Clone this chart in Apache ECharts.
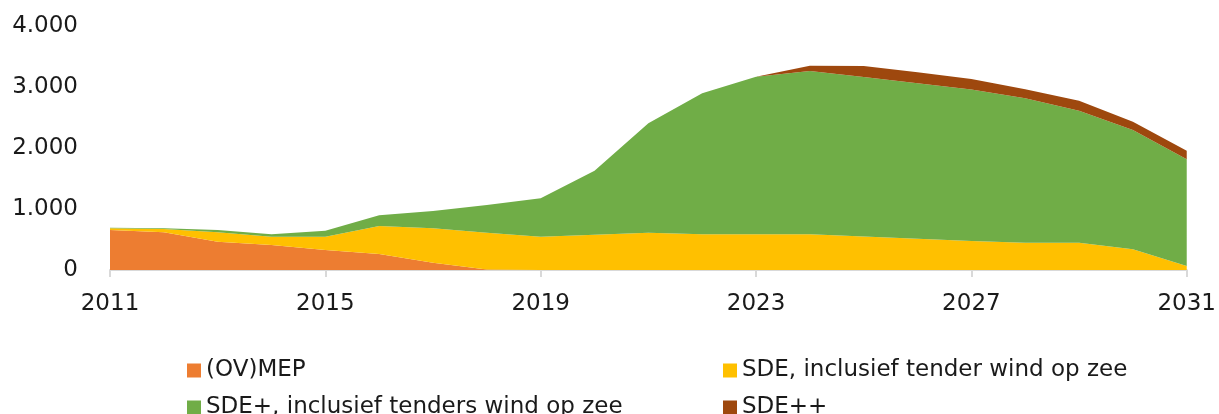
<!DOCTYPE html>
<html>
<head>
<meta charset="utf-8">
<script src="https://cdn.jsdelivr.net/npm/echarts@6/dist/echarts.min.js"></script>
<style>
  html, body { margin: 0; padding: 0; background: #fff; }
  #chart { width: 1219px; height: 414px; }
</style>
</head>
<body>
<div id="chart"></div>
<script>
var years = ['2011','2012','2013','2014','2015','2016','2017','2018','2019','2020',
  '2021','2022','2023','2024','2025','2026','2027','2028','2029','2030','2031'];

var mep     = [656, 617, 464, 410, 328, 262, 120, 10, 0, 0, 0, 0, 0, 0, 0, 0, 0, 0, 0, 0, 0];
var sde     = [27, 55, 153, 136, 218, 459, 563, 602, 546, 576, 612, 588, 588, 585, 549, 514, 475, 448, 448, 339, 66];
var sdePlus = [10, 11, 39, 39, 99, 175, 284, 454, 629, 1052, 1792, 2308, 2581, 2677, 2615, 2548, 2486, 2366, 2164, 1956, 1748];
var sdePP   = [0, 0, 0, 0, 0, 0, 0, 0, 0, 0, 0, 0, 0, 87, 180, 178, 170, 150, 164, 136, 142];

var names = ['(OV)MEP', 'SDE, inclusief tender wind op zee', 'SDE+, inclusief tenders wind op zee', 'SDE++'];
var colors = ['#ED7D31', '#FFC000', '#70AD47', '#9E480E'];

var chart = echarts.init(document.getElementById('chart'));

function area(name, data) {
  return {
    name: name,
    type: 'line',
    stack: 'total',
    data: data,
    symbol: 'none',
    lineStyle: { width: 0 },
    areaStyle: { opacity: 1 },
    emphasis: { disabled: true }
  };
}

var legendText = { fontFamily: 'DejaVu Sans', fontSize: 23, color: '#1a1a1a', lineHeight: 22 };

function legendCol(items, left) {
  return {
    data: items,
    orient: 'vertical',
    left: left, top: 359,
    width: 480, height: 80,
    padding: 0,
    itemWidth: 14, itemHeight: 14, itemGap: 14,
    icon: 'rect',
    textStyle: legendText
  };
}

var option = {
  animation: false,
  color: colors,
  grid: { left: 110, right: 29, top: 26, bottom: 144 },
  legend: [
    legendCol([names[0], names[2]], 187),
    legendCol([names[1], names[3]], 723)
  ],
  xAxis: {
    type: 'category',
    data: years,
    boundaryGap: false,
    axisLine: { lineStyle: { color: '#d9d9d9', width: 2 } },
    axisTick: { interval: 3, length: 7, lineStyle: { color: '#d9d9d9', width: 2 } },
    axisLabel: {
      interval: 3,
      margin: 23,
      fontFamily: 'DejaVu Sans',
      fontSize: 23,
      color: '#1a1a1a'
    }
  },
  yAxis: {
    type: 'value',
    min: 0,
    max: 4000,
    interval: 1000,
    axisLine: { show: false },
    axisTick: { show: false },
    splitLine: { show: false },
    axisLabel: {
      margin: 32,
      fontFamily: 'DejaVu Sans',
      fontSize: 23,
      color: '#1a1a1a',
      formatter: function (v) {
        return String(v).replace(/\B(?=(\d{3})+(?!\d))/g, '.');
      }
    }
  },
  series: [
    area(names[0], mep),
    area(names[1], sde),
    area(names[2], sdePlus),
    area(names[3], sdePP)
  ]
};

chart.setOption(option);
</script>
</body>
</html>
